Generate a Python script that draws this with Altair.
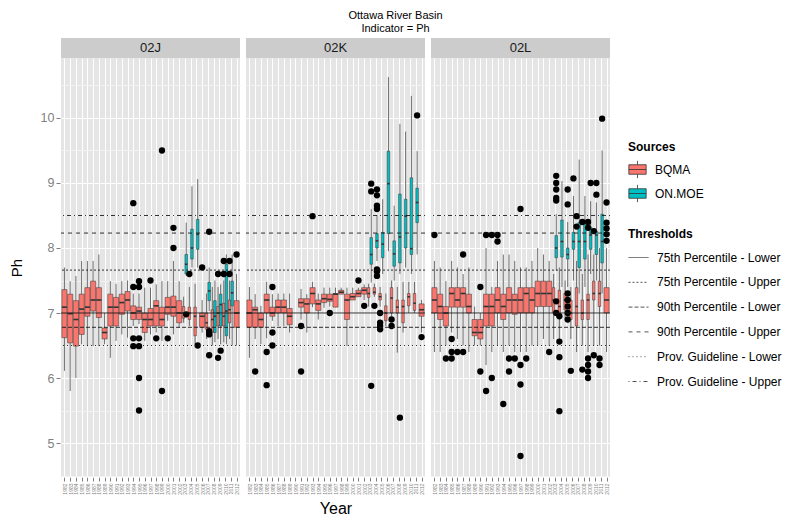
import altair as alt
import pandas as pd

YEARS = list(range(1982, 2013))
REGIONS = ["02J", "02K", "02L"]
SOURCES = ["BQMA", "ON.MOE"]
SOURCE_COLORS = ["#F8766D", "#00BFC4"]

# (year, lower whisker, Q1, median, Q3, upper whisker)
bqma_02J = [
    (1982, 6.11, 6.62, 7.09, 7.36, 7.70), (1983, 5.80, 6.54, 6.99, 7.29, 7.49),
    (1984, 6.00, 6.49, 6.90, 7.19, 7.57), (1985, 6.52, 6.67, 7.06, 7.29, 7.80),
    (1986, 6.49, 6.95, 7.09, 7.39, 7.80), (1987, 6.49, 7.03, 7.20, 7.49, 7.80),
    (1988, 6.49, 6.93, 7.20, 7.39, 7.90), (1989, 6.52, 6.60, 6.70, 6.77, 7.00),
    (1990, 6.31, 6.80, 7.09, 7.29, 7.49), (1991, 6.57, 6.80, 7.09, 7.24, 7.45),
    (1992, 6.67, 6.98, 7.16, 7.29, 7.49), (1993, 6.62, 7.03, 7.20, 7.33, 7.50),
    (1994, 6.80, 6.90, 7.00, 7.11, 7.30), (1995, 6.83, 6.90, 7.03, 7.09, 7.30),
    (1996, 6.57, 6.70, 6.90, 7.00, 7.39), (1997, 6.67, 6.80, 6.90, 7.07, 7.39),
    (1998, 6.70, 6.80, 7.11, 7.19, 7.44), (1999, 6.57, 6.80, 6.90, 7.09, 7.49),
    (2000, 6.88, 6.98, 7.09, 7.24, 7.49), (2001, 6.67, 6.95, 7.09, 7.26, 7.80),
    (2002, 6.77, 6.85, 7.00, 7.19, 7.49), (2003, 6.85, 6.92, 7.00, 7.10, 7.25),
    (2004, 6.80, 6.90, 7.00, 7.09, 7.40), (2005, 6.52, 6.65, 6.95, 7.09, 7.45),
    (2006, 6.70, 6.78, 6.95, 7.00, 7.20), (2007, 6.60, 6.75, 6.85, 7.00, 7.30),
    (2008, 6.50, 6.70, 6.90, 7.05, 7.40), (2009, 6.60, 6.80, 7.00, 7.10, 7.40),
    (2010, 6.55, 6.80, 6.95, 7.15, 7.50), (2011, 6.60, 6.85, 7.05, 7.20, 7.50),
    (2012, 6.50, 6.78, 7.00, 7.19, 7.60),
]
moe_02J = [
    (2003, 7.57, 7.60, 7.75, 7.90, 8.39), (2004, 7.70, 7.83, 8.00, 8.29, 8.95),
    (2005, 7.70, 7.98, 8.21, 8.44, 9.06), (2007, 7.03, 7.19, 7.34, 7.47, 7.70),
    (2008, 6.55, 6.70, 6.95, 7.19, 7.50), (2009, 6.52, 6.80, 7.13, 7.29, 7.44),
    (2010, 6.52, 6.65, 7.03, 7.75, 7.90), (2011, 6.50, 7.11, 7.31, 7.49, 7.90),
]
bqma_02K = [
    (1982, 6.31, 6.78, 7.00, 7.20, 7.40), (1983, 6.60, 6.78, 7.05, 7.09, 7.29),
    (1984, 6.52, 6.78, 6.90, 7.00, 7.11), (1985, 6.61, 7.00, 7.20, 7.29, 7.48),
    (1986, 6.88, 6.95, 7.00, 7.09, 7.29), (1987, 6.80, 7.00, 7.09, 7.20, 7.30),
    (1988, 6.80, 7.00, 7.09, 7.20, 7.30), (1989, 6.70, 6.82, 6.95, 7.07, 7.30),
    (1991, 6.90, 7.09, 7.16, 7.22, 7.37), (1992, 6.70, 7.00, 7.14, 7.22, 7.29),
    (1993, 7.09, 7.14, 7.30, 7.39, 7.48), (1994, 6.90, 7.04, 7.14, 7.20, 7.30),
    (1995, 7.08, 7.16, 7.22, 7.29, 7.39), (1996, 7.10, 7.18, 7.21, 7.29, 7.39),
    (1997, 7.09, 7.09, 7.29, 7.30, 7.39), (1998, 7.29, 7.29, 7.32, 7.35, 7.39),
    (1999, 6.49, 6.90, 7.20, 7.29, 7.39), (2000, 7.20, 7.20, 7.25, 7.30, 7.39),
    (2001, 7.25, 7.25, 7.30, 7.35, 7.39), (2002, 7.20, 7.29, 7.35, 7.39, 7.44),
    (2003, 7.10, 7.24, 7.30, 7.39, 7.45), (2004, 7.25, 7.29, 7.32, 7.39, 7.45),
    (2005, 7.10, 7.20, 7.25, 7.30, 7.40), (2006, 6.80, 6.88, 7.00, 7.11, 7.30),
    (2007, 6.95, 7.00, 7.23, 7.39, 7.50), (2008, 6.39, 7.00, 7.09, 7.20, 7.40),
    (2009, 6.70, 6.85, 7.10, 7.20, 7.48), (2010, 7.00, 7.11, 7.25, 7.30, 7.48),
    (2011, 7.00, 7.04, 7.15, 7.30, 7.48), (2012, 6.70, 6.95, 7.05, 7.14, 7.20),
]
moe_02K = [
    (2003, 7.47, 7.75, 7.90, 8.16, 8.60), (2004, 7.80, 8.00, 8.11, 8.22, 8.51),
    (2005, 7.60, 7.85, 8.06, 8.24, 8.75), (2006, 7.95, 8.22, 8.99, 9.49, 10.63),
    (2007, 7.50, 7.72, 7.91, 8.11, 8.65), (2008, 7.60, 7.77, 8.17, 8.83, 9.91),
    (2009, 7.70, 8.00, 8.49, 8.75, 9.79), (2010, 7.60, 7.90, 7.99, 9.08, 10.34),
    (2011, 7.90, 8.39, 8.70, 8.92, 9.49),
]
bqma_02L = [
    (1982, 6.40, 7.00, 7.20, 7.39, 7.80), (1983, 6.40, 6.90, 7.10, 7.29, 7.70),
    (1984, 6.50, 6.80, 7.00, 7.10, 7.49), (1985, 6.70, 7.09, 7.30, 7.39, 7.80),
    (1986, 6.60, 7.09, 7.20, 7.39, 7.70), (1987, 6.50, 7.09, 7.30, 7.39, 7.60),
    (1988, 6.40, 7.00, 7.10, 7.29, 7.70), (1989, 6.50, 6.65, 6.70, 6.90, 7.10),
    (1990, 6.50, 6.60, 6.70, 6.90, 7.00), (1991, 6.20, 6.80, 7.10, 7.29, 8.00),
    (1992, 6.40, 6.80, 7.10, 7.29, 7.40), (1993, 6.50, 7.00, 7.20, 7.39, 7.80),
    (1994, 6.40, 6.90, 7.10, 7.29, 7.90), (1995, 6.50, 7.00, 7.20, 7.39, 7.90),
    (1996, 6.40, 6.98, 7.20, 7.29, 7.80), (1997, 6.40, 7.00, 7.20, 7.39, 7.70),
    (1998, 6.40, 7.00, 7.30, 7.39, 7.70), (1999, 6.50, 7.00, 7.20, 7.39, 7.80),
    (2000, 6.50, 7.10, 7.30, 7.49, 8.00), (2001, 6.60, 7.10, 7.30, 7.49, 7.90),
    (2002, 6.50, 7.10, 7.30, 7.49, 7.80), (2003, 6.60, 7.00, 7.20, 7.39, 7.60),
    (2004, 6.60, 6.95, 7.10, 7.35, 7.70), (2005, 6.90, 7.05, 7.20, 7.30, 7.50),
    (2006, 6.60, 6.90, 7.00, 7.20, 7.40), (2007, 6.40, 6.80, 7.10, 7.39, 7.80),
    (2008, 6.50, 6.90, 7.00, 7.20, 7.60), (2009, 6.40, 6.90, 7.20, 7.29, 7.90),
    (2010, 6.50, 7.20, 7.30, 7.49, 7.90), (2011, 6.50, 7.10, 7.30, 7.49, 8.00),
    (2012, 6.40, 7.00, 7.20, 7.39, 8.00),
]
moe_02L = [
    (2003, 7.65, 7.85, 8.00, 8.19, 8.52), (2004, 7.40, 7.86, 8.10, 8.43, 9.03),
    (2005, 7.40, 7.83, 7.90, 8.00, 8.40), (2006, 7.50, 7.98, 8.10, 8.24, 8.80),
    (2007, 7.30, 7.70, 8.10, 8.39, 9.36), (2008, 7.40, 7.83, 8.10, 8.36, 8.80),
    (2009, 7.60, 7.98, 8.20, 8.32, 8.72), (2010, 7.50, 7.90, 8.20, 8.26, 8.70),
    (2011, 7.30, 7.77, 8.10, 8.52, 9.50),
]

# outliers: (year, source, value)
out_02J = [
    (1994, "BQMA", 8.69), (1994, "BQMA", 7.40), (1994, "BQMA", 6.61), (1994, "BQMA", 6.49),
    (1995, "BQMA", 7.49), (1995, "BQMA", 7.40), (1995, "BQMA", 6.61), (1995, "BQMA", 6.49),
    (1995, "BQMA", 6.00), (1995, "BQMA", 5.50), (1997, "BQMA", 7.50), (1998, "BQMA", 6.61),
    (1999, "BQMA", 9.50), (1999, "BQMA", 5.80), (2000, "BQMA", 6.61), (2001, "BQMA", 8.31),
    (2001, "BQMA", 8.00), (2003, "ON.MOE", 6.98), (2004, "BQMA", 7.60), (2005, "ON.MOE", 6.50),
    (2006, "BQMA", 7.70), (2007, "ON.MOE", 8.25), (2007, "ON.MOE", 6.72), (2007, "ON.MOE", 6.67),
    (2007, "ON.MOE", 6.35), (2009, "BQMA", 7.60), (2009, "BQMA", 6.31), (2009, "ON.MOE", 6.42),
    (2010, "BQMA", 7.80), (2010, "BQMA", 7.60), (2011, "BQMA", 7.80), (2011, "BQMA", 7.60),
    (2012, "BQMA", 7.90),
]
out_02K = [
    (1983, "BQMA", 6.10), (1985, "BQMA", 6.40), (1985, "BQMA", 5.89), (1986, "BQMA", 7.40),
    (1986, "BQMA", 6.70), (1986, "BQMA", 6.50), (1991, "BQMA", 6.80), (1991, "BQMA", 6.10),
    (1993, "BQMA", 8.49), (1996, "BQMA", 7.00), (2001, "BQMA", 7.50), (2002, "BQMA", 7.11),
    (2003, "ON.MOE", 8.99), (2003, "ON.MOE", 8.87), (2003, "ON.MOE", 5.88),
    (2004, "ON.MOE", 8.90), (2004, "ON.MOE", 8.81), (2004, "ON.MOE", 8.65), (2004, "ON.MOE", 8.60),
    (2004, "ON.MOE", 7.67), (2004, "ON.MOE", 7.64), (2004, "ON.MOE", 7.57), (2004, "BQMA", 7.11),
    (2005, "BQMA", 7.00), (2005, "BQMA", 6.85), (2005, "BQMA", 6.80), (2005, "BQMA", 6.75),
    (2007, "BQMA", 6.90), (2007, "BQMA", 6.80), (2008, "ON.MOE", 5.39), (2011, "ON.MOE", 10.04),
    (2012, "BQMA", 6.63),
]
out_02L = [
    (1982, "BQMA", 8.20), (1984, "BQMA", 6.30), (1985, "BQMA", 6.60), (1985, "BQMA", 6.40),
    (1985, "BQMA", 6.30), (1986, "BQMA", 6.40), (1987, "BQMA", 7.90), (1987, "BQMA", 6.40),
    (1990, "BQMA", 7.40), (1990, "BQMA", 6.10), (1991, "BQMA", 8.20), (1991, "BQMA", 5.80),
    (1992, "BQMA", 8.20), (1992, "BQMA", 6.00), (1993, "BQMA", 8.20), (1993, "BQMA", 8.10),
    (1994, "BQMA", 5.60), (1995, "BQMA", 6.30), (1995, "BQMA", 6.10), (1996, "BQMA", 6.30),
    (1997, "BQMA", 8.60), (1997, "BQMA", 6.20), (1997, "BQMA", 5.90), (1997, "BQMA", 4.80),
    (1998, "BQMA", 6.30), (2002, "BQMA", 6.40),
    (2003, "ON.MOE", 9.11), (2003, "ON.MOE", 9.00), (2003, "ON.MOE", 8.90), (2003, "ON.MOE", 8.77),
    (2003, "ON.MOE", 8.73), (2003, "ON.MOE", 7.18), (2003, "ON.MOE", 7.00),
    (2004, "BQMA", 6.56), (2004, "BQMA", 6.32), (2004, "BQMA", 5.49), (2004, "BQMA", 6.95),
    (2005, "ON.MOE", 8.90), (2005, "ON.MOE", 8.67), (2005, "ON.MOE", 7.30), (2005, "ON.MOE", 7.20),
    (2005, "ON.MOE", 7.10), (2005, "ON.MOE", 7.00), (2005, "ON.MOE", 6.90),
    (2006, "BQMA", 6.11), (2006, "ON.MOE", 9.07), (2007, "BQMA", 8.49), (2007, "BQMA", 8.33),
    (2008, "BQMA", 6.13), (2008, "BQMA", 8.40), (2009, "BQMA", 6.30), (2009, "BQMA", 6.20),
    (2009, "BQMA", 6.10), (2009, "BQMA", 6.00), (2009, "BQMA", 8.40), (2009, "BQMA", 8.31),
    (2009, "ON.MOE", 9.00), (2010, "ON.MOE", 9.00), (2010, "ON.MOE", 8.82), (2010, "BQMA", 6.35),
    (2010, "BQMA", 8.26), (2011, "BQMA", 6.20), (2011, "BQMA", 6.30), (2011, "ON.MOE", 9.99),
    (2012, "BQMA", 8.70), (2012, "BQMA", 8.39), (2012, "BQMA", 8.30), (2012, "BQMA", 8.21),
    (2012, "BQMA", 8.11),
]

THR_NAMES = ["75th Percentile - Lower", "75th Percentile - Upper", "90th Percentile - Lower",
             "90th Percentile - Upper", "Prov. Guideline - Lower", "Prov. Guideline - Upper"]
THR_VALUES = [7.00, 7.66, 6.78, 8.23, 6.50, 8.50]
THR_DASH = [[1, 0], [2, 2], [4, 2], [4, 4], [1, 3], [1, 3, 4, 3]]

Y_TICKS = [4.5, 5, 5.5, 6, 6.5, 7, 7.5, 8, 8.5, 9, 9.5, 10, 10.5]

stats = {"02J": (bqma_02J, moe_02J), "02K": (bqma_02K, moe_02K), "02L": (bqma_02L, moe_02L)}
outs = {"02J": out_02J, "02K": out_02K, "02L": out_02L}

rows = []
HALF = 0.45
for reg in REGIONS:
    bq, mo = stats[reg]
    moe_years = {r[0] for r in mo}
    bq_years = {r[0] for r in bq}
    centers = {}
    for src, tab, other in (("BQMA", bq, moe_years), ("ON.MOE", mo, bq_years)):
        for (yr, lo, q1, md, q3, hi) in tab:
            if yr in other:
                xl, xr = (yr - HALF, yr) if src == "BQMA" else (yr, yr + HALF)
            else:
                xl, xr = yr - HALF, yr + HALF
            centers[(yr, src)] = (xl + xr) / 2
            rows.append(dict(kind="box", region=reg, source=src, year=yr, lo=lo, q1=q1,
                             med=md, q3=q3, hi=hi, xl=xl, xr=xr, xc=(xl + xr) / 2))
    for (yr, src, v) in outs[reg]:
        rows.append(dict(kind="out", region=reg, source=src, year=yr, value=v,
                         xc=centers.get((yr, src), yr)))
    for name, v in zip(THR_NAMES, THR_VALUES):
        rows.append(dict(kind="thr", region=reg, thr=name, value=v))
    rows.append(dict(kind="strip", region=reg))
df = pd.DataFrame(rows)

PANEL_W = 179
PANEL_H = 419

x_scale = alt.Scale(domain=[1981.4, 2012.6], nice=False, zero=False)
y_scale = alt.Scale(domain=[4.477, 10.923], nice=False, zero=False)

x_axis = alt.Axis(values=YEARS, title=None, format="d", labelAngle=270, labelFontSize=5,
                  labelColor="#7F7F7F", labelAlign="right", labelBaseline="middle",
                  labelPadding=2, labelOverlap=False, labelFlush=False,
                  tickColor="#7F7F7F", tickSize=4, domain=False,
                  gridColor="#FFFFFF", gridWidth=1)
y_axis = alt.Axis(values=Y_TICKS, title="Ph", titleFontSize=15, titleFontWeight="normal",
                  titleColor="#000000", titlePadding=14,
                  labelExpr="datum.value % 1 === 0 ? format(datum.value, 'd') : ''",
                  labelFontSize=12.5, labelColor="#7F7F7F", labelPadding=2,
                  tickSize=4, domain=False, minExtent=22, maxExtent=22,
                  tickColor={"condition": {"test": "datum.value % 1 === 0", "value": "#7F7F7F"},
                             "value": "rgba(0,0,0,0)"},
                  gridColor={"condition": {"test": "datum.value % 1 === 0", "value": "#FFFFFF"},
                             "value": "#F2F2F2"},
                  gridWidth=1)

X = lambda f: alt.X(f, type="quantitative", scale=x_scale, axis=x_axis)
Y = lambda f: alt.Y(f, type="quantitative", scale=y_scale, axis=y_axis)

BOX_SYMBOL = "M-1,-0.55H1V0.55H-1Z M-1,0H1 M0,-0.55V-1 M0,0.55V1"

base = alt.Chart()

strip_bg = base.mark_rect(fill="#CCCCCC").encode(
    x=alt.value(0), x2=alt.value(PANEL_W), y=alt.value(-20), y2=alt.value(0)
).transform_filter("datum.kind === 'strip'")
strip_txt = base.mark_text(fontSize=13, color="#1A1A1A").encode(
    x=alt.value(PANEL_W / 2), y=alt.value(-10), text="region:N"
).transform_filter("datum.kind === 'strip'")

whisk = base.mark_rule(color="#4D4D4D", strokeWidth=0.8).encode(
    x=X("xc"), y=Y("lo"), y2="hi:Q"
).transform_filter("datum.kind === 'box'")

boxes = base.mark_rect(stroke="#333333", strokeWidth=0.5).encode(
    x=X("xl"), x2="xr:Q", y=Y("q1"), y2="q3:Q",
    fill=alt.Fill("source:N", scale=alt.Scale(domain=SOURCES, range=SOURCE_COLORS),
                  legend=alt.Legend(title="Sources", orient="none", legendX=567, legendY=84,
                                    symbolType=BOX_SYMBOL, symbolSize=300,
                                    symbolStrokeColor="#333333", symbolStrokeWidth=0.8,
                                    labelFontSize=12, titleFontSize=12, rowPadding=3,
                                    titlePadding=6, labelOffset=8)),
).transform_filter("datum.kind === 'box'")

medians = base.mark_rule(color="#333333", strokeWidth=1.6).encode(
    x=X("xl"), x2="xr:Q", y=Y("med")
).transform_filter("datum.kind === 'box'")

points = base.mark_circle(color="#000000", size=40, opacity=1).encode(
    x=X("xc"), y=Y("value")
).transform_filter("datum.kind === 'out'")

thr = base.mark_rule(color="#1A1A1A", strokeWidth=0.9).encode(
    y=Y("value"),
    strokeDash=alt.StrokeDash("thr:N", scale=alt.Scale(domain=THR_NAMES, range=THR_DASH),
                              legend=alt.Legend(title="Thresholds", orient="none",
                                                legendX=567, legendY=171, symbolType="stroke",
                                                symbolSize=400, symbolStrokeColor="#555555",
                                                symbolStrokeWidth=1, labelFontSize=12,
                                                titleFontSize=12, rowPadding=7.8,
                                                titlePadding=6, labelOffset=8)),
).transform_filter("datum.kind === 'thr'")

layered = alt.layer(strip_bg, whisk, boxes, medians, points, thr, strip_txt, data=df).properties(
    width=PANEL_W, height=PANEL_H
)

chart = layered.facet(
    column=alt.Column("region:N", sort=REGIONS,
                      header=alt.Header(labels=False, title="Year", titleOrient="bottom",
                                        titleFontSize=16, titleFontWeight="normal",
                                        titleColor="#000000", titlePadding=-4)),
    spacing=4,
).properties(
    title=alt.TitleParams(["Ottawa River Basin", "Indicator = Ph"], fontSize=11,
                          fontWeight="normal", anchor="middle", offset=4, color="#000000",
                          lineHeight=13),
    padding={"left": 9, "top": 10, "right": 5, "bottom": 5},
).configure(font="Liberation Sans").configure_view(fill="#E5E5E5", strokeWidth=0)

chart.save("out.html", embed_options={"renderer": "svg", "actions": False})
